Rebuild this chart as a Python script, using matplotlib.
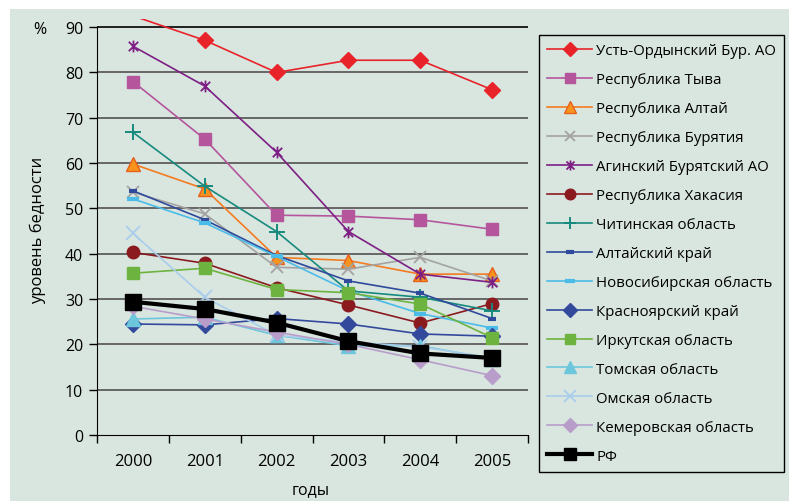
import matplotlib
matplotlib.use('Agg')
from matplotlib import pyplot as plt
from matplotlib.path import Path
from matplotlib.patches import Rectangle
import numpy as np

plt.rcParams['font.family'] = ['Open Sans', 'DejaVu Sans']

years = ['2000', '2001', '2002', '2003', '2004', '2005']

ust_orda = [92.5, 87.1, 80.0, 82.7, 82.7, 76.2]
tyva = [78.0, 65.3, 48.5, 48.3, 47.5, 45.4]
altai_rep = [59.8, 54.3, 39.2, 38.5, 35.5, 35.5]
buryatia = [53.6, 48.8, 37.0, 36.6, 39.2, 34.0]
agin = [85.8, 77.0, 62.4, 44.9, 35.5, 33.7]
khakassia = [40.3, 37.9, 32.5, 28.7, 24.7, 29.0]
chita = [66.8, 54.9, 44.9, 31.8, 30.4, 27.4]
altai_krai = [53.9, 47.5, 39.6, 34.0, 31.3, 25.7]
novosibirsk = [52.1, 46.8, 39.4, 31.8, 26.8, 23.6]
krasnoyarsk = [24.5, 24.3, 25.7, 24.5, 22.3, 21.8]
irkutsk = [35.7, 36.8, 32.1, 31.4, 28.9, 21.5]
tomsk = [25.6, 26.0, 22.0, 19.7, 19.7, 16.8]
omsk = [44.5, 30.4, 22.0, 20.5, 19.5, 17.0]
kemerovo = [28.4, 25.6, 22.7, 20.0, 16.6, 13.1]
rf = [29.4, 27.8, 24.8, 20.7, 18.0, 17.0]

ymax = 91.8

star = Path([(0, -1), (0, 1), (-0.8, -0.8), (0.8, 0.8), (-0.8, 0.8), (0.8, -0.8)],
            [Path.MOVETO, Path.LINETO, Path.MOVETO, Path.LINETO, Path.MOVETO, Path.LINETO])

# (label, data, line colour, marker, marker size, marker face, marker edge, edge width, line width)
series = [
    ('Усть-Ордынский Бур. АО', ust_orda, '#e8242a', 'D', 8, '#e8242a', '#e8242a', 1, 1.2),
    ('Республика Тыва', tyva, '#b5559c', 's', 8.5, '#b5559c', '#b5559c', 1, 1.2),
    ('Республика Алтай', altai_rep, '#f47b20', '^', 9.5, '#f7941d', '#e8601c', 1, 1.2),
    ('Республика Бурятия', buryatia, '#a3a3a3', 'x', 8.5, '#a3a3a3', '#a3a3a3', 1.3, 1.2),
    ('Агинский Бурятский АО', agin, '#7d1f84', star, 8.5, '#7d1f84', '#7d1f84', 1.3, 1.2),
    ('Республика Хакасия', khakassia, '#8b1a1f', 'o', 9, '#8b1a1f', '#8b1a1f', 1, 1.2),
    ('Читинская область', chita, '#178a7e', '+', 11, '#178a7e', '#178a7e', 1.4, 1.2),
    ('Алтайский край', altai_krai, '#2f4a9c', '_', 6, '#2f4a9c', '#2f4a9c', 3, 1.2),
    ('Новосибирская область', novosibirsk, '#4bbbe8', '_', 9, '#4bbbe8', '#4bbbe8', 3, 1.2),
    ('Красноярский край', krasnoyarsk, '#33499b', 'D', 8, '#33499b', '#33499b', 1, 1.2),
    ('Иркутская область', irkutsk, '#6db33f', 's', 9, '#6db33f', '#6db33f', 1, 1.2),
    ('Томская область', tomsk, '#6cc6dc', '^', 9.5, '#6cc6dc', '#6cc6dc', 1, 1.2),
    ('Омская область', omsk, '#a9cdea', 'x', 10, '#a9cdea', '#a9cdea', 1.3, 1.2),
    ('Кемеровская область', kemerovo, '#b89dca', 'D', 8, '#b89dca', '#b89dca', 1, 1.2),
    ('РФ', rf, '#000000', 's', 11, '#000000', '#000000', 1, 3),
]

bg = '#d9e6e0'
fig = plt.figure(figsize=(7.89, 5.02), dpi=100, facecolor='white')
fig.patches.append(Rectangle((10 / 789, 0), 1, 492 / 502, transform=fig.transFigure,
                             facecolor=bg, edgecolor='none', zorder=-10))

ax = fig.add_axes([97 / 789, 66 / 502, 431 / 789, 416 / 502])
ax.set_facecolor(bg)

x = np.arange(len(years))
handles = []
for label, data, color, marker, ms, mfc, mec, mew, lw in series:
    data = np.array(data)
    # line alone, clipped at the top of the plot area
    ax.plot(x, data, color=color, lw=lw)
    # markers only for points inside the value range (as Excel does)
    inside = np.where(data <= ymax, data, np.nan)
    ax.plot(x, inside, ls='none', marker=marker, markersize=ms,
            markerfacecolor=mfc, markeredgecolor=mec, markeredgewidth=mew)
    h, = ax.plot([], [], color=color, lw=lw, marker=marker, markersize=ms * 0.85,
                 markerfacecolor=mfc, markeredgecolor=mec, markeredgewidth=mew, label=label)
    handles.append(h)

ax.set_xlim(-0.5, 5.5)
ax.set_ylim(0, ymax)
ax.set_yticks(range(0, 91, 10))
for v in range(10, 91, 10):
    ax.axhline(v, color='#111111' if v == 90 else '#5c5c5c', lw=1.3, zorder=0)

ax.set_xticks([i - 0.5 for i in range(7)])
ax.set_xticklabels([])
ax.set_xticks(x, minor=True)
ax.set_xticklabels(years, minor=True, fontsize=12)
ax.tick_params(axis='x', which='minor', length=0, pad=13)
ax.tick_params(axis='x', which='major', length=6, width=1, direction='out')
ax.tick_params(axis='y', length=6, width=1, direction='out', labelsize=11.5, pad=4)

ax.spines['top'].set_visible(False)
ax.spines['right'].set_visible(False)
ax.spines['left'].set_color('black')
ax.spines['left'].set_bounds(0, 90)
ax.spines['bottom'].set_color('black')

fig.text(40 / 789, 1 - 30 / 502, '%', fontsize=11.5, ha='center', va='center')
fig.text(38 / 789, 1 - 230 / 502, 'уровень бедности', fontsize=12, rotation=90,
         ha='center', va='center')
fig.text(311 / 789, 1 - 490 / 502, 'годы', fontsize=11.5, ha='center', va='center')

leg = fig.legend(handles=handles, loc='upper left', bbox_to_anchor=(539 / 789, 1 - 36 / 502),
                 fontsize=10.8, frameon=True, fancybox=False, edgecolor='black',
                 facecolor=bg, framealpha=1, handlelength=3.0, handletextpad=0.25,
                 labelspacing=0.93, borderpad=0.55, borderaxespad=0)
leg.get_frame().set_linewidth(1)

fig.savefig('out.png', dpi=100, facecolor=fig.get_facecolor())
